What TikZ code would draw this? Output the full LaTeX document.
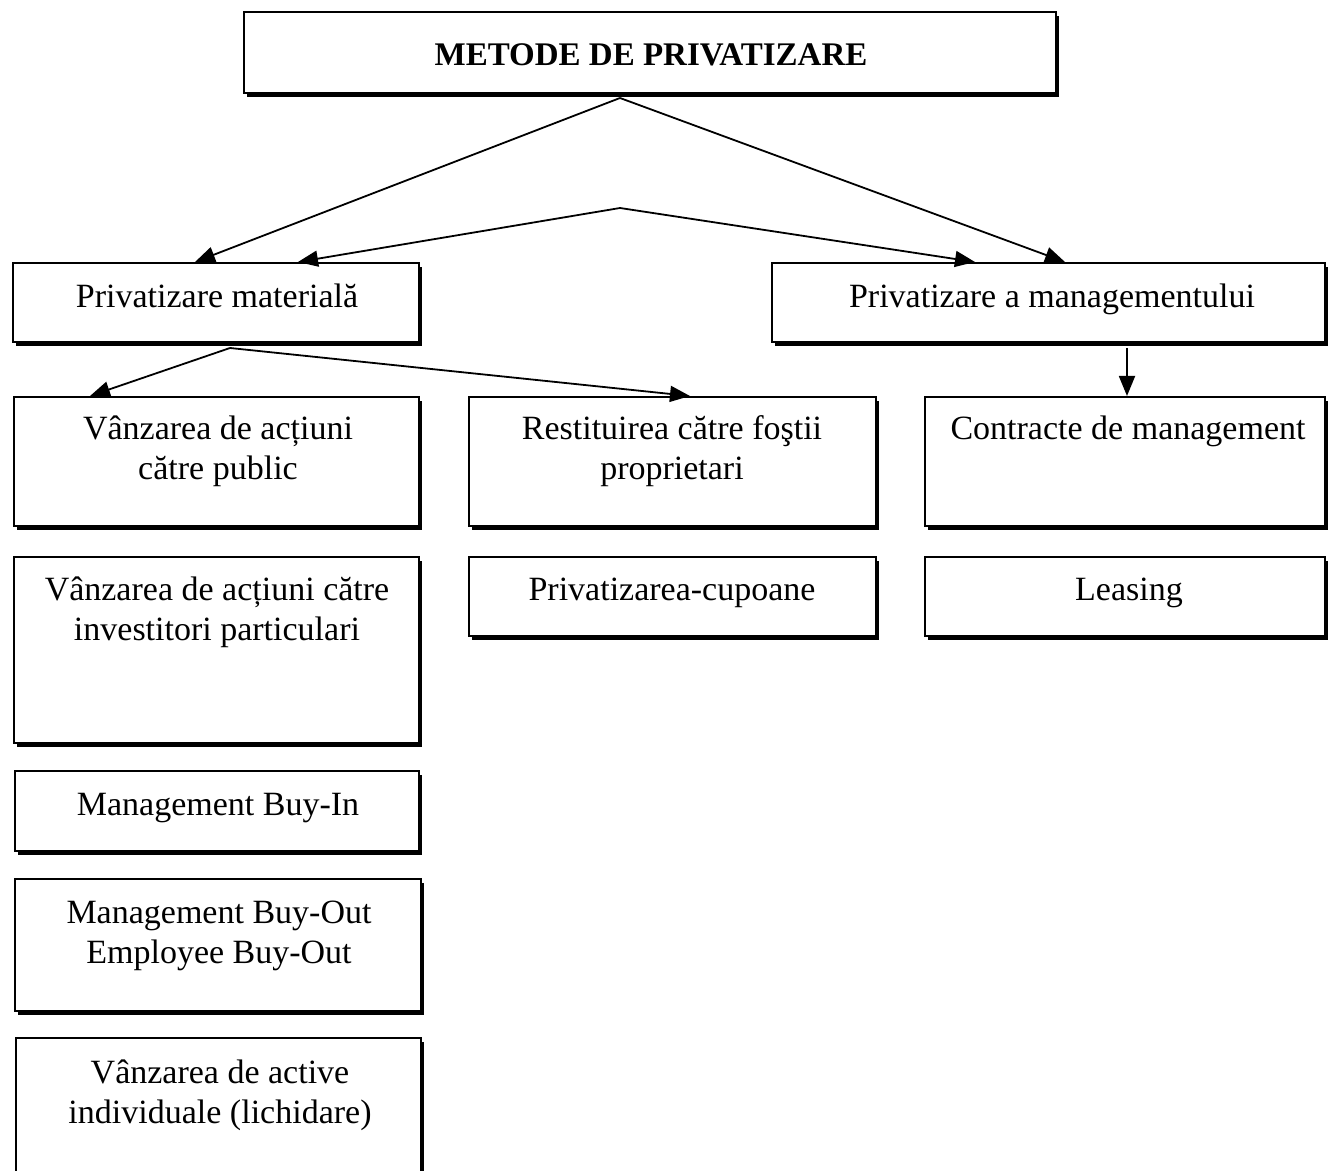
\documentclass[tikz,border=0pt]{standalone}
\usepackage{fontspec}
\setmainfont{Liberation Serif}
\usetikzlibrary{arrows.meta,shadows,calc}
\tikzset{
  pbox/.style={draw, fill=white, line width=1pt, inner sep=0pt, anchor=north west,
    general shadow={fill=black, shadow xshift=1.5pt, shadow yshift=-2.2pt}},
  lbl/.style={anchor=base, inner sep=0pt, font=\fontsize{17pt}{20pt}\selectfont},
  ttl/.style={anchor=base, inner sep=0pt, font=\bfseries\fontsize{16.5pt}{20pt}\selectfont},
  conn/.style={line width=0.9pt, -{Triangle[length=10pt,width=8pt]}},
}
\newcommand\twolines[2]{\begin{tabular}[t]{@{}c@{}}#1\\#2\end{tabular}}
\begin{document}
\begin{tikzpicture}[x=0.5pt,y=-0.5pt]
\clip (0,0) rectangle (1329,1171);
\fill[white] (0,0) rectangle (1329,1171);

% boxes
\node[pbox, minimum width=406pt, minimum height=40.5pt] (top) at (243,11) {};
\node[pbox, minimum width=203pt, minimum height=39.5pt] (pm) at (12,262) {};
\node[pbox, minimum width=276.5pt, minimum height=39.5pt] (pmg) at (771,262) {};
\node[pbox, minimum width=202.5pt, minimum height=64.5pt] (v1) at (13,396) {};
\node[pbox, minimum width=203.5pt, minimum height=64.5pt] (rest) at (468,396) {};
\node[pbox, minimum width=200pt, minimum height=64.5pt] (cm) at (924,396) {};
\node[pbox, minimum width=203.5pt, minimum height=39.5pt] (cup) at (468,556) {};
\node[pbox, minimum width=200pt, minimum height=39.5pt] (leas) at (924,556) {};
\node[pbox, minimum width=202.5pt, minimum height=93pt] (inv) at (13,556) {};
\node[pbox, minimum width=202pt, minimum height=40pt] (bin) at (14,770) {};
\node[pbox, minimum width=203pt, minimum height=66pt] (bout) at (14,878) {};
\node[pbox, minimum width=202.5pt, minimum height=80pt] (act) at (15,1037) {};

% texts
\node[ttl] (ttop) at (651,66) {METODE DE PRIVATIZARE};
\node[lbl] (tpm) at (217,308) {Privatizare materială};
\node[lbl] (tpmg) at (1052,308) {Privatizare a managementului};
\node[lbl] (tv1) at (218,440) {\twolines{Vânzarea de acțiuni}{către public}};
\node[lbl] (trest) at (672,440) {\twolines{Restituirea către foştii}{proprietari}};
\node[lbl] (tcm) at (1128,440) {Contracte de management};
\node[lbl] (tcup) at (672,601) {Privatizarea-cupoane};
\node[lbl] (tleas) at (1129,601) {Leasing};
\node[lbl] (tinv) at (217,601) {\twolines{Vânzarea de acțiuni către}{investitori particulari}};
\node[lbl] (tbin) at (218,815) {Management Buy-In};
\node[lbl] (tbout) at (219,923) {\twolines{Management Buy-Out}{Employee Buy-Out}};
\node[lbl] (tact) at (220,1083) {\twolines{Vânzarea de active}{individuale (lichidare)}};

% connectors
\coordinate (apex) at (620,208);
\draw[conn] ($(top.south west)+(377,4)$) -- ($(pm.north west)+(183,0)$);
\draw[conn] ($(top.south west)+(377,4)$) -- ($(pmg.north west)+(294,0)$);
\draw[conn] (apex) -- ($(pm.north west)+(286,0)$);
\draw[conn] (apex) -- ($(pmg.north west)+(204,0)$);
\draw[conn] ($(pm.south west)+(218,5)$) -- ($(v1.north west)+(77,0)$);
\draw[conn] ($(pm.south west)+(218,5)$) -- ($(rest.north west)+(222,0)$);
\draw[conn] ($(pmg.south west)+(356,5)$) -- ($(cm.north west)+(203,0)$);
\end{tikzpicture}
\end{document}
